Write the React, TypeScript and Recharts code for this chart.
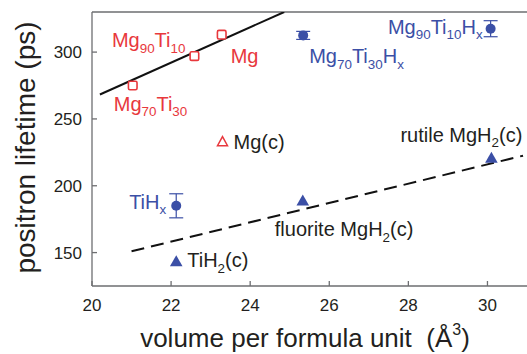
import { ComposedChart, ErrorBar, Label, Line, ReferenceLine, Scatter, XAxis, YAxis } from "recharts";

const RED = "#e8383d";
const BLUE = "#3b4fa6";
const INK = "#231f20";
const AXIS_GREY = "#6d6e71";
const FONT = "'Liberation Sans', Arial, Helvetica, sans-serif";

const X_TICKS = [20, 22, 24, 26, 28, 30];
const Y_TICKS = [150, 200, 250, 300];

// <..> marks a subscript in the names
const alloyFilms = [
  { name: "Mg<70>Ti<30>", x: 21.03, y: 275 },
  { name: "Mg<90>Ti<10>", x: 22.59, y: 297 },
  { name: "Mg", x: 23.28, y: 313 },
];
const mgCalc = [{ name: "Mg(c)", x: 23.3, y: 233 }];
const hydrideFilms = [
  { name: "TiH<x>", x: 22.13, y: 185, err: 9 },
  { name: "Mg<70>Ti<30>H<x>", x: 25.34, y: 312.5, err: 3 },
  { name: "Mg<90>Ti<10>H<x>", x: 30.08, y: 317.5, err: 6 },
];
const hydrideCalc = [
  { name: "TiH<2>(c)", x: 22.13, y: 143.5 },
  { name: "fluorite MgH<2>(c)", x: 25.33, y: 189 },
  { name: "rutile MgH<2>(c)", x: 30.1, y: 221 },
];
const alloyTrend = [
  { x: 20.2, y: 268.3 },
  { x: 24.86, y: 330 },
];
const hydrideTrend = [
  { x: 21.0, y: 151 },
  { x: 30.9, y: 222.5 },
];

// label placement relative to the marker, in px
const LABEL_POS: Record<string, { dx: number; dy: number; anchor: "start" | "end"; color: string }> = {
  "Mg<70>Ti<30>": { dx: -19, dy: 25, anchor: "start", color: RED },
  "Mg<90>Ti<10>": { dx: -9, dy: -9, anchor: "end", color: RED },
  Mg: { dx: 9, dy: 28, anchor: "start", color: RED },
  "Mg(c)": { dx: 11, dy: 7, anchor: "start", color: INK },
  "TiH<x>": { dx: -10, dy: 3, anchor: "end", color: BLUE },
  "Mg<70>Ti<30>H<x>": { dx: 6, dy: 28, anchor: "start", color: BLUE },
  "Mg<90>Ti<10>H<x>": { dx: -8, dy: 5, anchor: "end", color: BLUE },
  "TiH<2>(c)": { dx: 11, dy: 6, anchor: "start", color: INK },
  "fluorite MgH<2>(c)": { dx: -28, dy: 36, anchor: "start", color: INK },
  "rutile MgH<2>(c)": { dx: -91, dy: -16, anchor: "start", color: INK },
};

function RichText({ x, y, text, size, fill, anchor }: any) {
  const parts = text.split(/(<[^>]+>)/).filter(Boolean);
  const subSize = size * 0.67;
  const drop = size * 0.27;
  let lowered = false;
  return (
    <text x={x} y={y} fontSize={size} fill={fill} textAnchor={anchor} fontFamily={FONT}>
      {parts.map((part: string, i: number) => {
        if (part.startsWith("<")) {
          const dy = lowered ? 0 : drop;
          lowered = true;
          return (
            <tspan key={i} dy={dy} fontSize={subSize}>
              {part.slice(1, -1)}
            </tspan>
          );
        }
        const dy = lowered ? -drop : 0;
        lowered = false;
        return (
          <tspan key={i} dy={dy}>
            {part}
          </tspan>
        );
      })}
    </text>
  );
}

function PointLabel({ cx, cy, name }: { cx: number; cy: number; name: string }) {
  const pos = LABEL_POS[name];
  if (!pos) return null;
  return <RichText x={cx + pos.dx} y={cy + pos.dy} text={name} size={20} fill={pos.color} anchor={pos.anchor} />;
}

function OpenSquare(props: any) {
  const { cx, cy, payload } = props;
  return (
    <g>
      <rect x={cx - 4.3} y={cy - 4.3} width={8.6} height={8.6} rx={1.5} fill="#fff" stroke={RED} strokeWidth={1.6} />
      <PointLabel cx={cx} cy={cy} name={payload.name} />
    </g>
  );
}

function OpenTriangle(props: any) {
  const { cx, cy, payload } = props;
  return (
    <g>
      <polygon points={`${cx},${cy - 5} ${cx + 5},${cy + 4} ${cx - 5},${cy + 4}`} fill="#fff" stroke={RED} strokeWidth={1.5} />
      <PointLabel cx={cx} cy={cy} name={payload.name} />
    </g>
  );
}

function FilledCircle(props: any) {
  const { cx, cy, payload } = props;
  return (
    <g>
      <circle cx={cx} cy={cy} r={5} fill={BLUE} />
      <PointLabel cx={cx} cy={cy} name={payload.name} />
    </g>
  );
}

function FilledTriangle(props: any) {
  const { cx, cy, payload } = props;
  return (
    <g>
      <polygon points={`${cx},${cy - 6} ${cx + 6.3},${cy + 5} ${cx - 6.3},${cy + 5}`} fill={BLUE} />
      <PointLabel cx={cx} cy={cy} name={payload.name} />
    </g>
  );
}

function YTitle(props: any) {
  const { viewBox } = props;
  const cx = viewBox.x + 25;
  const cy = viewBox.y + viewBox.height / 2 - 1.5;
  return (
    <text
      x={cx}
      y={cy}
      transform={`rotate(-90 ${cx} ${cy})`}
      textAnchor="middle"
      dominantBaseline="central"
      fontSize={28}
      fill={INK}
      fontFamily={FONT}
    >
      positron lifetime (ps)
    </text>
  );
}

function XTitle(props: any) {
  const { viewBox } = props;
  const cx = viewBox.x + viewBox.width / 2 - 4.5;
  const baseline = viewBox.y + 61;
  return (
    <text x={cx} y={baseline} textAnchor="middle" fontSize={26} fill={INK} fontFamily={FONT}>
      {"volume per formula unit\u00a0\u00a0(Å"}
      <tspan dy={-12} fontSize={16}>
        3
      </tspan>
      <tspan dy={12}>)</tspan>
    </text>
  );
}

const TICK = { fill: INK, fontSize: 17, fontFamily: FONT };

export default function App() {
  return (
    <div style={{ width: 527, height: 354 }}>
      <style>{"body{margin:0}"}</style>
      <ComposedChart width={527} height={354} margin={{ top: 12, right: 0, bottom: 0, left: 0 }}>
        <XAxis
          type="number"
          dataKey="x"
          domain={[20, 31]}
          ticks={X_TICKS}
          allowDataOverflow
          height={68}
          tick={TICK}
          tickSize={-5}
          tickMargin={18}
          stroke={AXIS_GREY}
          strokeWidth={1.3}
        >
          <Label content={XTitle} />
        </XAxis>
        <YAxis
          type="number"
          dataKey="y"
          domain={[125, 330]}
          ticks={Y_TICKS}
          allowDataOverflow
          width={92}
          tick={TICK}
          tickSize={-5}
          tickMargin={15}
          stroke={AXIS_GREY}
          strokeWidth={1.3}
        >
          <Label content={YTitle} />
        </YAxis>
        <ReferenceLine y={330} stroke={AXIS_GREY} strokeWidth={1.3} />
        <Line data={alloyTrend} dataKey="y" stroke="#111" strokeWidth={2} dot={false} isAnimationActive={false} />
        <Line
          data={hydrideTrend}
          dataKey="y"
          stroke="#111"
          strokeWidth={2}
          strokeDasharray="13 7"
          dot={false}
          isAnimationActive={false}
        />
        <Scatter data={alloyFilms} shape={OpenSquare} isAnimationActive={false} />
        <Scatter data={mgCalc} shape={OpenTriangle} isAnimationActive={false} />
        <Scatter data={hydrideCalc} shape={FilledTriangle} isAnimationActive={false} />
        <Scatter data={hydrideFilms} shape={FilledCircle} isAnimationActive={false}>
          <ErrorBar dataKey="err" direction="y" width={7} stroke={BLUE} strokeWidth={1.2} />
        </Scatter>
      </ComposedChart>
    </div>
  );
}
